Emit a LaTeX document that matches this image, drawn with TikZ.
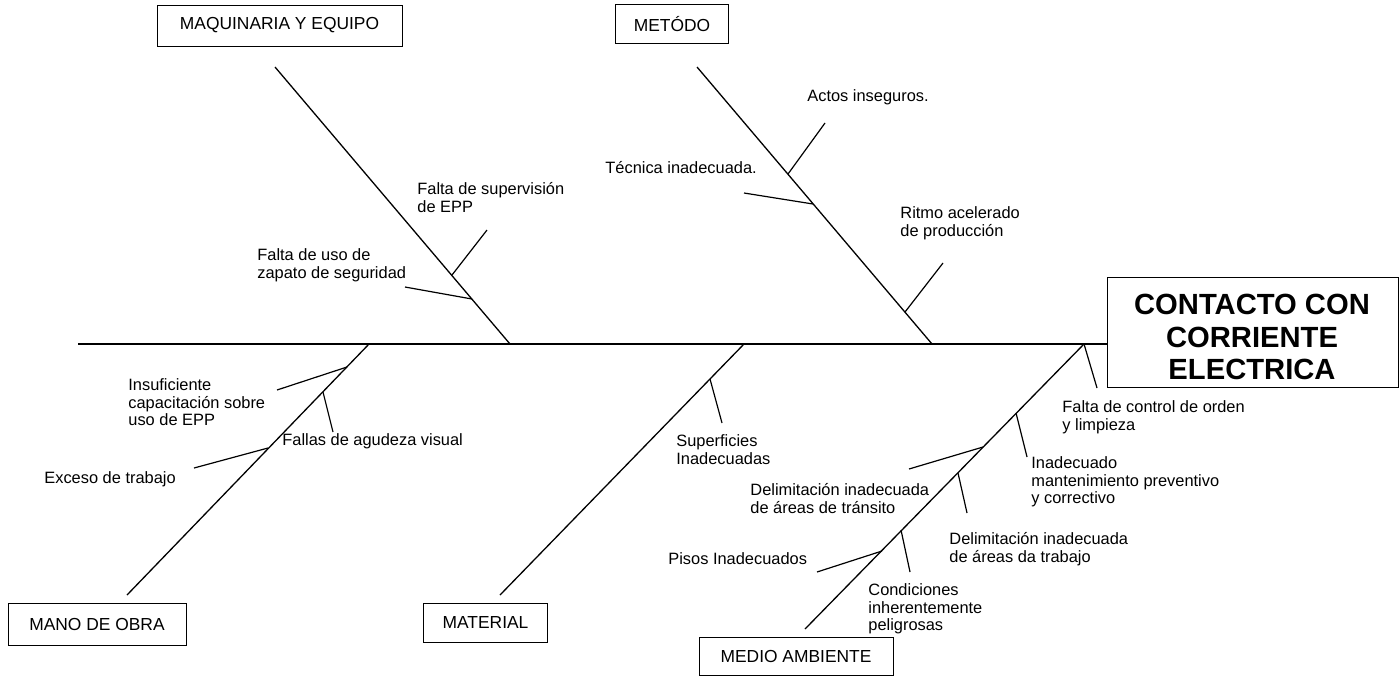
\documentclass[tikz,border=0pt]{standalone}
\usepackage{fontspec}
\setmainfont{Liberation Sans}
\begin{document}
\begin{tikzpicture}[x=0.5pt,y=-0.5pt,
  catbox/.style={draw=black,line width=0.5pt,inner sep=0pt,
    font=\fontsize{8.7}{10}\selectfont},
  effectbox/.style={draw=black,line width=0.5pt,inner sep=0pt,
    minimum width=145.5pt,minimum height=55pt},
  effecttext/.style={inner sep=0pt,align=center,
    font=\fontsize{14.6}{16.4}\selectfont\bfseries},
  bone/.style={line width=0.65pt},
  twig/.style={line width=0.6pt},
  lbl/.style={anchor=north west,inner sep=0pt,align=left,
    font=\fontsize{8.2}{8.9}\selectfont}
]
\useasboundingbox (0,0) rectangle (1400,676);

% effect box and its title
\node[effectbox] (effect) at (1252.5,332) {};
\node[effecttext] (effectlbl) at (1252,337) {CONTACTO CON\\CORRIENTE\\ELECTRICA};

% category boxes
\node[catbox,minimum width=122.5pt,minimum height=20.5pt] (maq) at (279.5,25.5) {MAQUINARIA Y EQUIPO};
\node[catbox,minimum width=56.5pt,minimum height=19.5pt] (met) at (672,24) {METÓDO};
\node[catbox,minimum width=89pt,minimum height=21pt] (mano) at (97,624.5) {MANO DE OBRA};
\node[catbox,minimum width=62pt,minimum height=19.5pt] (mat) at (485.5,622.5) {MATERIAL};
\node[catbox,minimum width=97pt,minimum height=19pt] (medio) at (796,656) {MEDIO AMBIENTE};

% spine
\coordinate (tail) at (78,344);
\draw[bone] (tail) -- (tail -| effect.west);

% main bones
\coordinate (maqT) at (275,67);   \coordinate (maqB) at (510,344);
\coordinate (metT) at (697,67);   \coordinate (metB) at (932,344);
\coordinate (manoT) at (369,344); \coordinate (manoB) at (127,595);
\coordinate (matT) at (744,344);  \coordinate (matB) at (500,595);
\coordinate (medT) at (1084,344); \coordinate (medB) at (805,629);
\draw[bone] (maqT) -- (maqB);
\draw[bone] (metT) -- (metB);
\draw[bone] (manoT) -- (manoB);
\draw[bone] (matT) -- (matB);
\draw[bone] (medT) -- (medB);

% maquinaria y equipo
\coordinate (q1) at (452,275); \coordinate (q1e) at (487,230);
\coordinate (q2) at (472,299); \coordinate (q2e) at (405,287);
\draw[twig] (q1) -- (q1e);
\draw[twig] (q2) -- (q2e);
\node[lbl] (lq1) at (417,182) {Falta de supervisión\\de EPP};
\node[lbl] (lq2) at (257,248) {Falta de uso de\\zapato de seguridad};

% metodo
\coordinate (m1) at (788,174); \coordinate (m1e) at (825,123);
\coordinate (m2) at (813,204); \coordinate (m2e) at (744,193);
\coordinate (m3) at (905,312); \coordinate (m3e) at (943,263);
\draw[twig] (m1) -- (m1e);
\draw[twig] (m2) -- (m2e);
\draw[twig] (m3) -- (m3e);
\node[lbl] (lm1) at (807,89) {Actos inseguros.};
\node[lbl] (lm2) at (605,161) {Técnica inadecuada.};
\node[lbl] (lm3) at (900,206) {Ritmo acelerado\\de producción};

% mano de obra
\coordinate (o1) at (347,367); \coordinate (o1e) at (277,390);
\coordinate (o2) at (323,392); \coordinate (o2e) at (333,432);
\coordinate (o3) at (268,448); \coordinate (o3e) at (194,468);
\draw[twig] (o1) -- (o1e);
\draw[twig] (o2) -- (o2e);
\draw[twig] (o3) -- (o3e);
\node[lbl] (lo1) at (128,378) {Insuficiente\\capacitación sobre\\uso de EPP};
\node[lbl] (lo2) at (282,433) {Fallas de agudeza visual};
\node[lbl] (lo3) at (44,471) {Exceso de trabajo};

% material
\coordinate (t1) at (710,379); \coordinate (t1e) at (722,423);
\draw[twig] (t1) -- (t1e);
\node[lbl] (lt1) at (676,434) {Superficies\\Inadecuadas};

% medio ambiente
\coordinate (e1e) at (1097,388);
\coordinate (e2) at (1016,413); \coordinate (e2e) at (1027,457);
\coordinate (e3) at (983,447);  \coordinate (e3e) at (909,469);
\coordinate (e4) at (958,473);  \coordinate (e4e) at (967,513);
\coordinate (e5) at (901,530);  \coordinate (e5e) at (910,572);
\coordinate (e6) at (882,551);  \coordinate (e6e) at (817,572);
\draw[twig] (medT) -- (e1e);
\draw[twig] (e2) -- (e2e);
\draw[twig] (e3) -- (e3e);
\draw[twig] (e4) -- (e4e);
\draw[twig] (e5) -- (e5e);
\draw[twig] (e6) -- (e6e);
\node[lbl] (le1) at (1062,400) {Falta de control de orden\\y limpieza};
\node[lbl] (le2) at (1031,456) {Inadecuado\\mantenimiento preventivo\\y correctivo};
\node[lbl] (le3) at (750,483) {Delimitación inadecuada\\de áreas de tránsito};
\node[lbl] (le4) at (949,532) {Delimitación inadecuada\\de áreas da trabajo};
\node[lbl] (le5) at (868,583) {Condiciones\\inherentemente\\peligrosas};
\node[lbl] (le6) at (668,552) {Pisos Inadecuados};
\end{tikzpicture}
\end{document}
